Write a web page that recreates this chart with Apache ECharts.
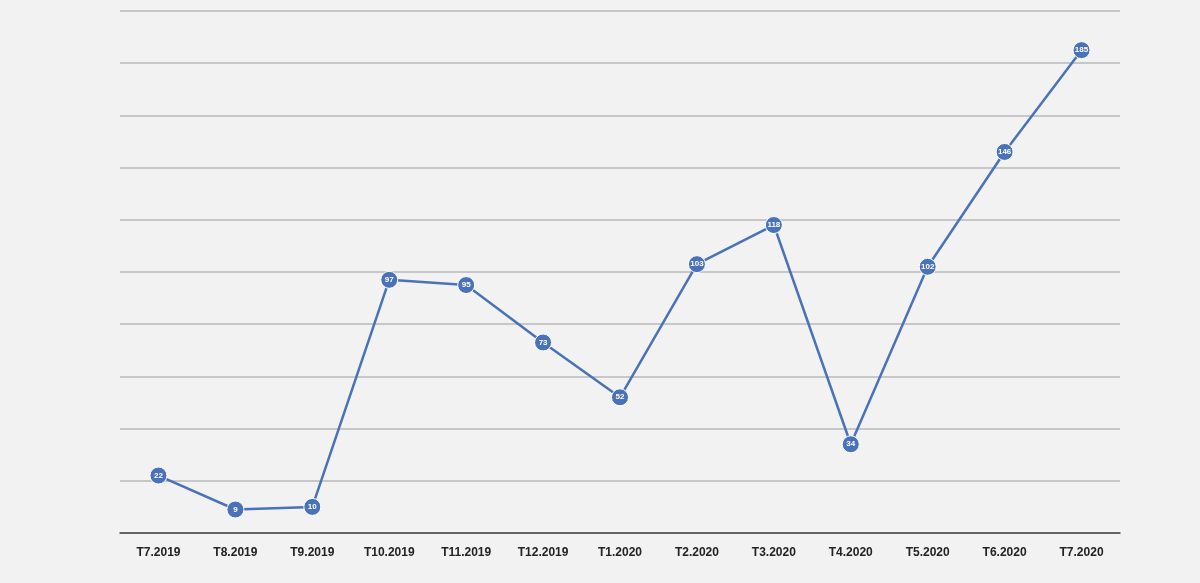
<!DOCTYPE html>
<html>
<head>
<meta charset="utf-8">
<script src="https://cdn.jsdelivr.net/npm/echarts@6/dist/echarts.min.js"></script>
<style>
html, body { margin: 0; padding: 0; background: #f2f2f2; }
#chart { width: 1200px; height: 583px; }
</style>
</head>
<body>
<div id="chart"></div>
<script>
var months = ['T7.2019', 'T8.2019', 'T9.2019', 'T10.2019', 'T11.2019', 'T12.2019', 'T1.2020',
    'T2.2020', 'T3.2020', 'T4.2020', 'T5.2020', 'T6.2020', 'T7.2020'];
var counts = [22, 9, 10, 97, 95, 73, 52, 103, 118, 34, 102, 146, 185];

var chart = echarts.init(document.getElementById('chart'));
chart.setOption({
    backgroundColor: '#f2f2f2',
    animation: false,
    grid: { left: 120, right: 80, top: 11, bottom: 50 },
    xAxis: {
        type: 'category',
        data: months,
        axisTick: { show: false },
        axisLine: { lineStyle: { color: '#444', width: 1.5 } },
        axisLabel: { color: '#222', fontWeight: 'bold', fontSize: 12, margin: 14, fontFamily: 'Liberation Sans' }
    },
    yAxis: {
        type: 'value',
        min: 0,
        max: 200,
        interval: 20,
        axisLabel: { show: false },
        axisLine: { show: false },
        axisTick: { show: false },
        splitLine: { lineStyle: { color: '#b8b8b8', width: 1.5 } }
    },
    series: [{
        type: 'line',
        data: counts,
        symbol: 'circle',
        symbolSize: 17,
        itemStyle: { color: '#4a72b8', borderColor: '#fff', borderWidth: 1 },
        lineStyle: { color: '#4a72b8', width: 2.5 },
        label: {
            show: true,
            position: 'inside',
            color: '#fff',
            fontSize: 8,
            fontWeight: 'bold',
            fontFamily: 'Liberation Sans'
        }
    }]
});
</script>
</body>
</html>
